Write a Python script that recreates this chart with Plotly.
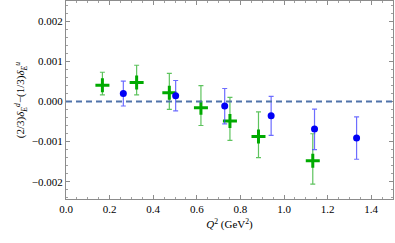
import plotly.graph_objects as go

# Green series (crosses)
green_x = [0.167, 0.324, 0.474, 0.619, 0.752, 0.883, 1.132]
green_y = [0.000405, 0.000469, 0.000215, -0.000156, -0.000485, -0.000872, -0.00148]
green_hi = [0.000726, 0.000900, 0.000700, 0.000395, 0.000100, -0.000260, -0.000805]
green_lo = [0.000165, 0.000165, -0.000198, -0.000600, -0.000970, -0.001400, -0.002060]

# Blue series (circles)
blue_x = [0.263, 0.503, 0.728, 0.941, 1.140, 1.333]
blue_y = [0.000198, 0.000141, -0.000114, -0.000360, -0.000690, -0.000914]
blue_hi = [0.000504, 0.000520, 0.000321, 0.000124, -0.000190, -0.000385]
blue_lo = [-0.000114, -0.000237, -0.000558, -0.000847, -0.001200, -0.001440]

x_ticks = [0.0, 0.2, 0.4, 0.6, 0.8, 1.0, 1.2, 1.4]
x_tick_labels = ["0.0", "0.2", "0.4", "0.6", "0.8", "1.0", "1.2", "1.4"]
y_ticks = [-0.002, -0.001, 0.0, 0.001, 0.002]
y_tick_labels = ["\u22120.002", "\u22120.001", "0.000", "0.001", "0.002"]

FONT = "Liberation Serif"

fig = go.Figure()

fig.add_shape(type="line", xref="paper", yref="y", x0=0, x1=1, y0=0, y1=0,
              line=dict(color="rgb(80,115,170)", width=2, dash="6px,4px"))

fig.add_trace(go.Scatter(
    x=green_x, y=green_y, mode="markers",
    marker=dict(symbol="cross-thin", size=10, color="rgb(0,170,0)",
                line=dict(color="rgb(0,170,0)", width=3)),
    error_y=dict(type="data", symmetric=False,
                 array=[h - v for h, v in zip(green_hi, green_y)],
                 arrayminus=[v - l for l, v in zip(green_lo, green_y)],
                 color="rgba(40,175,40,0.75)", thickness=1.2, width=2.5),
    showlegend=False))

fig.add_trace(go.Scatter(
    x=blue_x, y=blue_y, mode="markers",
    marker=dict(symbol="circle", size=7, color="rgb(0,0,245)"),
    error_y=dict(type="data", symmetric=False,
                 array=[h - v for h, v in zip(blue_hi, blue_y)],
                 arrayminus=[v - l for l, v in zip(blue_lo, blue_y)],
                 color="rgba(60,60,255,0.75)", thickness=1.2, width=2.5),
    showlegend=False))

axis_common = dict(showgrid=False, zeroline=False, showline=True, linecolor="rgb(140,140,140)",
                   linewidth=1, mirror="allticks", ticks="inside", ticklen=4, automargin=False,
                   tickcolor="rgb(140,140,140)", tickfont=dict(family=FONT, size=11, color="black"))

fig.update_xaxes(range=[0, 1.5], tickvals=x_ticks, ticktext=x_tick_labels,
                 minor=dict(dtick=0.05, ticklen=2, ticks="inside", tickcolor="rgb(160,160,160)"),
                 title=dict(text="<i>Q</i><sup>2</sup> (GeV<sup>2</sup>)",
                            font=dict(family=FONT, size=11, color="black"), standoff=6),
                 **axis_common)
fig.update_yaxes(range=[-0.00243, 0.0025], tickvals=y_ticks, ticktext=y_tick_labels,
                 minor=dict(dtick=0.0002, ticklen=2, ticks="inside", tickcolor="rgb(160,160,160)"),
                 title=dict(text="(2/3)<i>δ</i><sub><i>E</i></sub><sup><i>d</i></sup>\u2212(1/3)<i>δ</i><sub><i>E</i></sub><sup><i>u</i></sup>",
                            font=dict(family=FONT, size=11, color="black"), standoff=4),
                 **axis_common)

fig.update_layout(width=395, height=243, margin=dict(l=66, r=2, t=1, b=44),
                  plot_bgcolor="white", paper_bgcolor="white",
                  font=dict(family=FONT, size=11, color="black"))

fig.write_html("out.html", config={"displayModeBar": False},
               post_script="document.body.style.margin='0';")
